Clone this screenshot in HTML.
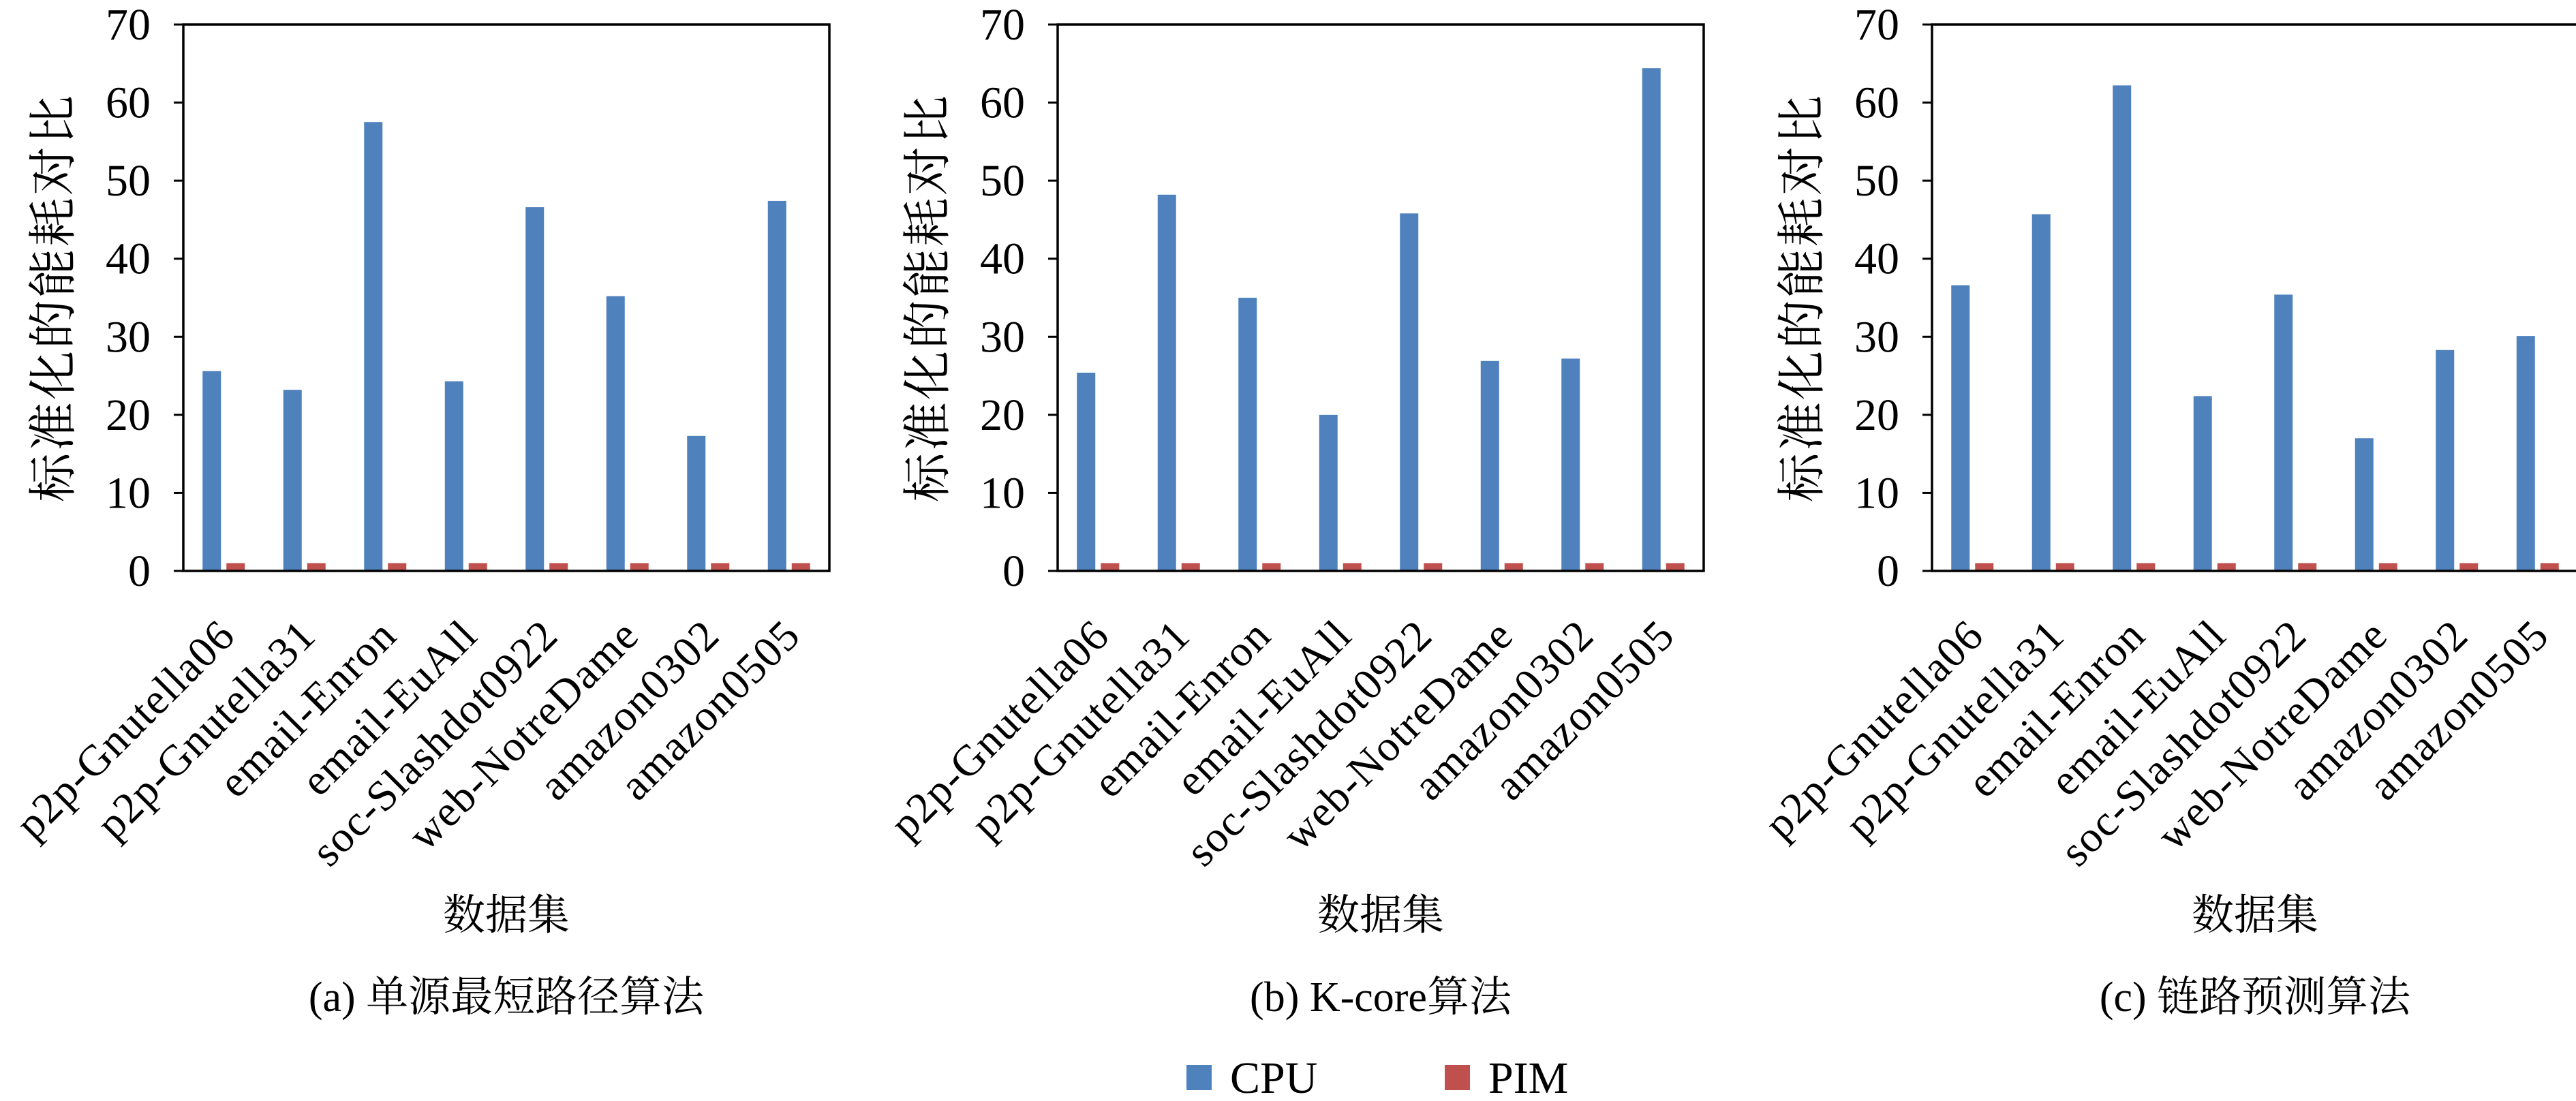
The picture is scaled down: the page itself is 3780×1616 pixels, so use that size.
<!DOCTYPE html>
<html><head><meta charset="utf-8"><style>
html,body{margin:0;padding:0;background:#fff;}
svg{display:block;}
text{font-family:"Liberation Serif","Noto Serif CJK SC",serif;fill:#000;}
.cjk{font-family:"Noto Serif CJK SC","Liberation Serif",serif;}
</style></head><body>
<svg id="fig" width="3780" height="1616" viewBox="0 0 3780 1616"></svg>
<script>
const categories = ["p2p-Gnutella06","p2p-Gnutella31","email-Enron","email-EuAll","soc-Slashdot0922","web-NotreDame","amazon0302","amazon0505"];
const cpuA = [25.6, 23.2, 57.5, 24.3, 46.6, 35.2, 17.3, 47.4];
const cpuB = [25.4, 48.2, 35.0, 20.0, 45.8, 26.9, 27.2, 64.4];
const cpuC = [36.6, 45.7, 62.2, 22.4, 35.4, 17.0, 28.3, 30.1];
const pimA = [1, 1, 1, 1, 1, 1, 1, 1];
const pimB = [1, 1, 1, 1, 1, 1, 1, 1];
const pimC = [1, 1, 1, 1, 1, 1, 1, 1];
const yTicks = [0, 10, 20, 30, 40, 50, 60, 70];
const captions = ["(a) 单源最短路径算法", "(b) K-core算法", "(c) 链路预测算法"];
const panelKeys = ["a", "b", "c"];

const NS = "http://www.w3.org/2000/svg";
const svg = document.getElementById("fig");
function mk(tag, attrs, parent) {
  const e = document.createElementNS(NS, tag);
  for (const k in attrs) e.setAttribute(k, attrs[k]);
  (parent || svg).appendChild(e);
  return e;
}
const CPU_COLOR = "#4f81bd", PIM_COLOR = "#c0504d";
const panels = [
  {left: 269, cpu: cpuA, pim: pimA},
  {left: 1552, cpu: cpuB, pim: pimB},
  {left: 2835, cpu: cpuC, pim: pimC}
];
const W = 948, TOP = 36, BOTTOM = 838, YMAX = 70;

panels.forEach((p, pi) => {
  const g = mk("g", {});
  
  
  const yScale = v => BOTTOM - (v / YMAX) * (BOTTOM - TOP);
  const band = W / categories.length;
  const xCenter = i => p.left + band * (i + 0.5);
  // bars
  categories.forEach((c, i) => {
    const cx = xCenter(i);
    const b1 = mk("rect", {x: cx - 31, y: yScale(p.cpu[i]), width: 27, height: BOTTOM - yScale(p.cpu[i]), fill: CPU_COLOR}, g);
    
    
    const b2 = mk("rect", {x: cx + 4, y: yScale(p.pim[i]), width: 27, height: BOTTOM - yScale(p.pim[i]), fill: PIM_COLOR}, g);
    
    
    const t = mk("text", {x: 0, y: 0, "font-size": 64, "text-anchor": "end", "letter-spacing": "1.5",
      transform: `translate(${cx + 20},${BOTTOM + 98}) rotate(-45)`}, g);
    t.textContent = c;
    
    
  });
  // frame
  const fr = mk("rect", {x: p.left, y: TOP, width: W, height: BOTTOM - TOP, fill: "none", stroke: "#000", "stroke-width": 3.5}, g);
  
  
  // y ticks
  yTicks.forEach(v => {
    const y = yScale(v);
    const tk = mk("line", {x1: p.left - 14, x2: p.left, y1: y, y2: y, stroke: "#000", "stroke-width": 3}, g);
    
    
    const tl = mk("text", {x: p.left - 48, y: y + 22, "font-size": 66, "text-anchor": "end"}, g);
    tl.textContent = v;
    
    
  });
  // y title
  const yt = mk("text", {x: 0, y: 0, "font-size": 72, "text-anchor": "middle", class: "cjk", "letter-spacing": "3",
    transform: `translate(${p.left - 166},${437}) rotate(-90)`}, g);
  yt.textContent = "标准化的能耗对比";
  
  
  // x title
  const xt = mk("text", {x: p.left + W / 2, y: 1364, "font-size": 62, "text-anchor": "middle", class: "cjk"}, g);
  xt.textContent = "数据集";
  
  
  // caption
  const cap = mk("text", {x: p.left + W / 2, y: 1484, "font-size": 62, "text-anchor": "middle"}, g);
  cap.textContent = captions[pi];
  
  
});

// legend
const lg = mk("g", {});


const l1 = mk("rect", {x: 1741, y: 1563, width: 37, height: 37, fill: CPU_COLOR}, lg);


const lt1 = mk("text", {x: 1805, y: 1604, "font-size": 66}, lg);
lt1.textContent = "CPU";


const l2 = mk("rect", {x: 2120, y: 1563, width: 37, height: 37, fill: PIM_COLOR}, lg);


const lt2 = mk("text", {x: 2184, y: 1604, "font-size": 66}, lg);
lt2.textContent = "PIM";


</script>
</body></html>
